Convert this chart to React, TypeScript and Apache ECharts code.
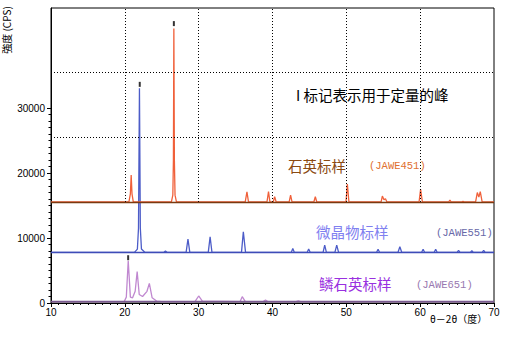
import React, { useEffect, useRef } from "react";
import * as echarts from "echarts";

// ---- data (2θ in degrees, intensity in CPS) ----
const xTicks = [10, 20, 30, 40, 50, 60, 70];
const yTickLabels = [0, 10000, 20000, 30000];
const yMinorTicks = Array.from({ length: 31 }, (_, i) => i * 1000);

const quartzBase = 15540;
const quartzPts: [number, number][] = [
  [10, 15540], [20.55, 15540], [20.75, 16800], [20.86, 19700], [20.97, 16800], [21.15, 15540],
  [26.3, 15540], [26.5, 16600], [26.58, 22000], [26.64, 42260], [26.71, 22000], [26.8, 16600], [27.0, 15540],
  [36.3, 15540], [36.54, 17100], [36.75, 15540],
  [39.25, 15540], [39.46, 17150], [39.65, 15540], [40.1, 15540], [40.29, 16350], [40.5, 15540],
  [42.25, 15540], [42.45, 16600], [42.65, 15540],
  [45.6, 15540], [45.8, 16350], [46.0, 15540],
  [49.95, 15540], [50.14, 18300], [50.35, 15540],
  [54.7, 15540], [54.88, 16450], [55.1, 15900], [55.3, 16050], [55.5, 15540],
  [59.85, 15540], [60.06, 17500], [60.3, 15540],
  [63.85, 15540], [64.03, 15850], [64.2, 15540],
  [65.6, 15540], [65.8, 15650], [66.0, 15540],
  [67.5, 15540], [67.74, 17000], [67.95, 16300], [68.14, 17150], [68.4, 15540],
  [70, 15540],
];

const microBase = 7800;
const microPts: [number, number][] = [
  [10, 7800], [21.3, 7800], [21.7, 8300], [21.85, 11500], [21.98, 33030], [22.1, 11500], [22.25, 8300], [22.7, 7800],
  [25.3, 7800], [25.5, 8000], [25.7, 7800],
  [28.3, 7800], [28.55, 9850], [28.8, 7800],
  [31.3, 7800], [31.55, 10200], [31.8, 7800],
  [35.8, 7800], [36.05, 10970], [36.35, 7800],
  [42.55, 7800], [42.75, 8400], [42.95, 7800],
  [44.7, 7800], [44.9, 8300], [45.1, 7800],
  [46.85, 7800], [47.07, 8900], [47.3, 7800],
  [48.45, 7800], [48.7, 8900], [48.95, 7800],
  [54.1, 7800], [54.3, 8250], [54.5, 7800],
  [57.0, 7800], [57.25, 8650], [57.5, 7800],
  [60.2, 7800], [60.4, 8250], [60.6, 7800],
  [61.9, 7800], [62.1, 8250], [62.3, 7800],
  [65.0, 7800], [65.2, 8100], [65.4, 7800],
  [66.8, 7800], [67.0, 8050], [67.2, 7800],
  [68.4, 7800], [68.6, 8100], [68.8, 7800],
  [70, 7800],
];

const tridyBase = 200;
const tridyPts: [number, number][] = [
  [10, 200], [19.9, 200], [20.2, 900], [20.46, 6500], [20.75, 900], [21.05, 800], [21.4, 1800],
  [21.67, 4820], [21.95, 1300], [22.4, 1000], [23.0, 1800], [23.32, 3030], [23.7, 800], [24.3, 300], [25, 200],
  [29.5, 200], [30.0, 1080], [30.5, 300],
  [35.6, 200], [35.9, 970], [36.3, 250],
  [38.7, 200], [39.05, 460], [39.4, 200],
  [43.2, 200], [43.5, 350], [43.8, 200],
  [70, 200],
];

// peaks used for quantification ("I" markers)
const markerPts: [number, number][] = [
  [26.64, 43000],
  [22.02, 33650],
  [20.45, 6970],
];

// dotted guide lines (above quartz baseline)
const guideX = [20, 30, 40, 50, 60];
const guideY = [25540, 35540];
const yMax = 45400;

export default function App() {
  const ref = useRef<HTMLDivElement>(null);
  useEffect(() => {
    if (!ref.current) return;
    const chart = echarts.init(ref.current, null, { renderer: "svg" });
    const dotted = { type: [1, 2] as any, color: "#000", width: 1 };
    const guideLines: any[] = [
      ...guideX.map((x) => [{ coord: [x, quartzBase] }, { coord: [x, yMax] }]),
      ...guideY.map((y) => [{ coord: [10, y] }, { coord: [70, y] }]),
    ];
    const baseLine = (y: number, color: string) => ({
      silent: true,
      symbol: ["none", "none"],
      label: { show: false },
      animation: false,
      lineStyle: { color, width: 1.3, type: "solid" },
      data: [[{ coord: [10, y] }, { coord: [70, y] }]],
    });
    const txt = (x: number, y: number, text: string, fill: string, font: string) => ({
      type: "text",
      x,
      y,
      style: { text, fill, font, textAlign: "left", textVerticalAlign: "middle" },
    });
    chart.setOption({
      animation: false,
      backgroundColor: "#fff",
      grid: {
        left: 51,
        right: 28,
        top: 8,
        bottom: 36,
        show: true,
        borderColor: "#000",
        borderWidth: 1,
        backgroundColor: "transparent",
      },
      xAxis: {
        type: "value",
        min: 10,
        max: 70,
        interval: 10,
        axisLine: { lineStyle: { color: "#000", width: 1 } },
        axisTick: { show: true, length: 4, lineStyle: { color: "#000" } },
        minorTick: { show: true, splitNumber: 10, length: 2, lineStyle: { color: "#000" } },
        axisLabel: {
          color: "#000",
          fontSize: 10,
          fontFamily: "Liberation Sans",
          margin: 4,
          customValues: xTicks,
        },
        splitLine: { show: false },
        minorSplitLine: { show: false },
      },
      yAxis: [
        {
          type: "value",
          min: 0,
          max: yMax,
          axisLine: { show: true, lineStyle: { color: "#000", width: 1 } },
          axisTick: { show: true, length: 4, lineStyle: { color: "#000" }, customValues: yTickLabels },
          axisLabel: {
            color: "#000",
            fontSize: 10,
            fontFamily: "Liberation Sans",
            margin: 6,
            customValues: yTickLabels,
            formatter: (v: number) => String(v),
          },
          splitLine: { show: false },
        },
        {
          type: "value",
          min: 0,
          max: yMax,
          position: "left",
          offset: 0,
          axisLine: { show: false },
          axisTick: { show: true, length: 2.5, lineStyle: { color: "#000" }, customValues: yMinorTicks },
          axisLabel: { show: false },
          splitLine: { show: false },
        },
      ],
      series: [
        {
          name: "grid",
          type: "line",
          data: [],
          silent: true,
          markLine: {
            silent: true,
            symbol: ["none", "none"],
            label: { show: false },
            lineStyle: dotted,
            data: guideLines,
          },
        },
        {
          name: "石英标样",
          type: "line",
          data: quartzPts,
          showSymbol: false,
          symbol: "none",
          lineStyle: { color: "#F0603A", width: 1.3 },
          markLine: baseLine(quartzBase, "#7A3A10"),
          z: 3,
        },
        {
          name: "微晶物标样",
          type: "line",
          data: microPts,
          showSymbol: false,
          symbol: "none",
          lineStyle: { color: "#4C5CC8", width: 1.3 },
          markLine: baseLine(microBase, "#3E4CB8"),
          z: 2,
        },
        {
          name: "鳞石英标样",
          type: "line",
          data: tridyPts,
          showSymbol: false,
          symbol: "none",
          lineStyle: { color: "#C088D0", width: 1.3 },
          markLine: baseLine(tridyBase, "#7A5A90"),
          z: 2,
        },
        {
          name: "markers",
          type: "scatter",
          data: markerPts,
          symbol: "rect",
          symbolSize: [2, 5],
          itemStyle: { color: "#000" },
          silent: true,
          z: 5,
        },
      ],
      graphic: [
        {
          type: "text",
          x: 6,
          y: 30,
          rotation: Math.PI / 2,
          style: {
            text: "強度 (CPS)",
            fill: "#000",
            font: '10px "Noto Sans CJK JP"',
            textAlign: "center",
            textVerticalAlign: "middle",
          },
        },
        txt(430, 318, "θ－2θ（度）", "#000", '10px "Noto Sans CJK SC"'),
        txt(296, 94, "I 标记表示用于定量的峰", "#000", '14.5px "Noto Sans CJK SC"'),
        txt(288, 165, "石英标样", "#8B4A12", '14.5px "Noto Sans CJK SC"'),
        txt(369, 166, "(JAWE451)", "#E07030", '10.5px "Liberation Mono"'),
        txt(316, 231, "微晶物标样", "#8080F0", '14.5px "Noto Sans CJK SC"'),
        txt(436, 233, "(JAWE551)", "#6868A8", '10.5px "Liberation Mono"'),
        txt(319, 283, "鳞石英标样", "#9930E0", '14.5px "Noto Sans CJK SC"'),
        txt(416, 285, "(JAWE651)", "#9878B0", '10.5px "Liberation Mono"'),
      ],
    });
    return () => chart.dispose();
  }, []);
  return (
    <div
      ref={ref}
      style={{ position: "fixed", left: 0, top: 0, width: 522, height: 339, background: "#fff" }}
    />
  );
}
